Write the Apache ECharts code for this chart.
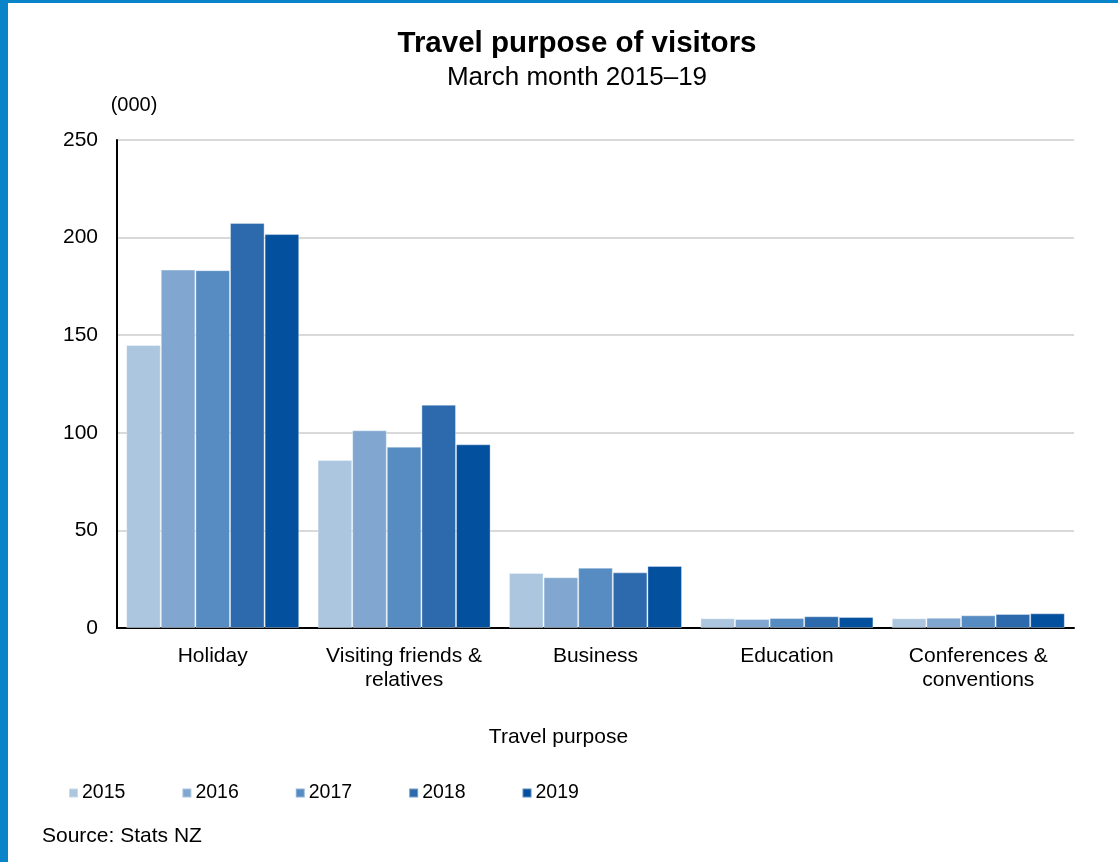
<!DOCTYPE html>
<html>
<head>
<meta charset="utf-8">
<script src="https://cdn.jsdelivr.net/npm/echarts@6/dist/echarts.min.js"></script>
<style>
  html, body { margin: 0; padding: 0; background: #ffffff; }
  #chart { width: 1118px; height: 862px; }
</style>
</head>
<body>
<div id="chart"></div>
<script>
// Visitor arrivals by travel purpose, March month (thousands)
const categories = ['Holiday', 'Visiting friends &\nrelatives', 'Business', 'Education', 'Conferences &\nconventions'];
const years = ['2015', '2016', '2017', '2018', '2019'];
const v2015 = [145.0, 86.1, 28.2, 5.0, 5.0];
const v2016 = [183.6, 101.3, 26.0, 4.6, 5.3];
const v2017 = [183.3, 92.9, 30.9, 5.1, 6.5];
const v2018 = [207.5, 114.4, 28.5, 6.0, 7.2];
const v2019 = [201.8, 94.1, 31.8, 5.6, 7.5];
const yTicks = [0, 50, 100, 150, 200, 250];
const colors = ['#adc6df', '#81a7d0', '#578cc2', '#2d6aad', '#03509e'];

const seriesValues = [v2015, v2016, v2017, v2018, v2019];
const FONT = '"Liberation Sans", Arial, sans-serif';

const chart = echarts.init(document.getElementById('chart'), null, { renderer: 'canvas' });
chart.setOption({
  animation: false,
  backgroundColor: '#ffffff',
  textStyle: { fontFamily: FONT, color: '#000000' },
  title: {
    text: 'Travel purpose of visitors',
    subtext: 'March month 2015\u201319',
    left: 572,
    textAlign: 'center',
    top: 24,
    itemGap: 6,
    textStyle: { fontFamily: FONT, fontSize: 29.5, fontWeight: 'bold', color: '#000000' },
    subtextStyle: { fontFamily: FONT, fontSize: 26, color: '#000000' }
  },
  legend: {
    data: years,
    left: 68,
    top: 783,
    padding: 0,
    itemWidth: 9,
    itemHeight: 9,
    itemGap: 56,
    icon: 'rect',
    textStyle: { fontFamily: FONT, fontSize: 19.5, color: '#000000', padding: [0, 0, 0, -1] }
  },
  grid: { left: 117, right: 44, top: 140, bottom: 234, containLabel: false },
  xAxis: {
    type: 'category',
    data: categories,
    name: 'Travel purpose',
    nameLocation: 'middle',
    nameGap: 99,
    nameTextStyle: { fontFamily: FONT, fontSize: 21, color: '#000000', padding: [0, 74, 0, 0] },
    axisLine: { lineStyle: { color: '#000000', width: 2 } },
    axisTick: { show: false },
    axisLabel: { fontFamily: FONT, fontSize: 21, color: '#000000', margin: 16, lineHeight: 24, interval: 0 }
  },
  yAxis: {
    type: 'value',
    min: 0,
    max: 250,
    interval: 50,
    name: '(000)',
    nameLocation: 'end',
    nameGap: 25,
    nameTextStyle: { fontFamily: FONT, fontSize: 20, color: '#000000', align: 'center', padding: [0, 0, 0, 34] },
    axisLine: { show: true, lineStyle: { color: '#000000', width: 2 } },
    axisTick: { show: false },
    axisLabel: {
      fontFamily: FONT, fontSize: 21, color: '#000000', margin: 19,
      formatter: v => (yTicks.indexOf(v) >= 0 ? String(v) : '')
    },
    splitLine: { lineStyle: { color: '#d9d9d9', width: 2 } }
  },
  series: years.map((y, i) => ({
    name: y,
    type: 'bar',
    data: seriesValues[i],
    barGap: '0%',
    barCategoryGap: '9.6%',
    itemStyle: { color: colors[i], borderColor: 'rgba(255,255,255,0.35)', borderWidth: 1 }
  })),
  graphic: [
    { type: 'rect', left: 0, top: 0, shape: { width: 8, height: 862 }, style: { fill: '#0a84c8' }, silent: true },
    { type: 'rect', left: 0, top: 0, shape: { width: 1118, height: 3 }, style: { fill: '#0a84c8' }, silent: true },
    {
      type: 'text', left: 42, top: 826,
      style: { text: 'Source: Stats NZ', font: '21px ' + FONT, fill: '#000000' }
    }
  ]
});
</script>
</body>
</html>
